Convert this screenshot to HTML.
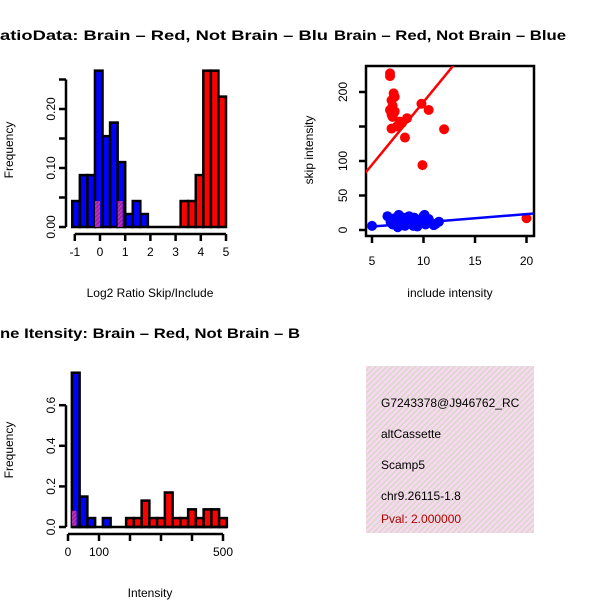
<!DOCTYPE html>
<html><head><meta charset="utf-8"><style>
body{margin:0;background:#fff}
svg{display:block;font-family:"Liberation Sans",sans-serif}
</style></head><body>
<svg id="c" width="600" height="600" viewBox="0 0 600 600">
<defs>
<pattern id="hatch" width="4" height="4" patternUnits="userSpaceOnUse" patternTransform="rotate(45)">
<rect width="4" height="4" fill="#f8d8f0"/><rect width="1.5" height="4" fill="#d8d8c8"/></pattern>
<pattern id="phatch" width="3" height="3" patternUnits="userSpaceOnUse" patternTransform="rotate(45)">
<rect width="3" height="3" fill="#a020a0"/><rect width="1" height="3" fill="#c040c0"/></pattern>
<clipPath id="clip2"><rect x="366" y="66" width="168" height="170"/></clipPath>
<clipPath id="clipbox"><rect x="366" y="366" width="168" height="167"/></clipPath>
</defs>
<text x="0" y="40" font-size="14" font-weight="bold" textLength="328" lengthAdjust="spacingAndGlyphs">atioData: Brain – Red, Not Brain – Blu</text>
<text x="334" y="40" font-size="14" font-weight="bold" textLength="232" lengthAdjust="spacingAndGlyphs">Brain – Red, Not Brain – Blue</text>
<text x="0" y="338" font-size="14" font-weight="bold" textLength="300" lengthAdjust="spacingAndGlyphs">ne Itensity: Brain – Red, Not Brain – B</text>
<text x="150" y="297" font-size="12" text-anchor="middle">Log2 Ratio Skip/Include</text>
<text x="450" y="297" font-size="12" text-anchor="middle">include intensity</text>
<text x="150" y="597" font-size="12" text-anchor="middle">Intensity</text>
<text transform="translate(13,150) rotate(-90)" font-size="12" text-anchor="middle">Frequency</text>
<text transform="translate(313,150) rotate(-90)" font-size="12" text-anchor="middle">skip intensity</text>
<text transform="translate(13,450) rotate(-90)" font-size="12" text-anchor="middle">Frequency</text>
<g id="p1"></g>
<g id="p2"></g>
<g id="p3"></g>
<g clip-path="url(#clipbox)">
<rect x="366" y="366" width="168" height="167" fill="url(#hatch)"/>
<text x="381" y="407" font-size="12">G7243378@J946762_RC</text>
<text x="381" y="438" font-size="12">altCassette</text>
<text x="381" y="469" font-size="12">Scamp5</text>
<text x="381" y="500" font-size="12">chr9.26115-1.8</text>
<text x="381" y="523" font-size="12" fill="#b00000">Pval: 2.000000</text>
</g>
</svg>
<script>
// Ratio histogram data
const ratioBlueStarts = [-1.1,-0.8,-0.5,-0.2,0.1,0.4,0.7,1.0,1.3,1.6];
const ratioBlueFreq = [0.044,0.088,0.088,0.265,0.154,0.177,0.11,0.022,0.044,0.022];
const ratioRedStarts = [3.2,3.5,3.8,4.1,4.4,4.7];
const ratioRedFreq = [0.044,0.044,0.088,0.265,0.265,0.221];
const ratioPurpleStarts = [-0.2,0.7];
const ratioPurpleFreq = [0.044,0.044];
const ratioBinWidth = 0.3;
const ratioXTicks = [-1,0,1,2,3,4,5];
const ratioYTicks = [0,0.05,0.1,0.15,0.2,0.25];
const ratioYLabels = ["0.00","","0.10","","0.20",""];
// Scatter data
const redX = [6.75,6.75,7.1,6.9,7.2,6.75,7.1,6.9,9.8,10.5,6.9,7.7,8.4,7.4,8.2,12.0,9.9,20.0,7.0,7.9,7.2,7.0];
const redY = [227,223,198,188,193,174,169,167,183,174,147,157,162,150,134,146,94,17,180,155,172,164];
const blueX = [5.0,6.5,6.8,7.0,7.3,7.6,7.9,8.2,8.5,8.8,9.1,9.4,9.7,10.0,10.2,10.5,10.8,11.0,11.5,7.5,8.0,9.0,10.1,6.9,7.2,8.6,9.6,10.4,11.2,7.8];
const blueY = [6,20,12,8,15,22,10,6,14,9,18,5,12,20,8,16,10,7,12,4,18,6,22,10,17,20,15,12,9,13];
const redFit = [3.6,18.2];
const blueFit = [-1,1.2];
const scXTicks = [5,10,15,20];
const scYTicks = [0,50,100,150,200];
const scYLabels = ["0","50","100","","200"];
// Intensity histogram data
const intBlueStarts = [12.5,37.5,62.5,112.5];
const intBlueFreq = [0.76,0.15,0.044,0.044];
const intRedStarts = [187.5,212.5,237.5,262.5,287.5,312.5,337.5,362.5,387.5,412.5,437.5,462.5,487.5];
const intRedFreq = [0.044,0.044,0.13,0.044,0.044,0.17,0.044,0.044,0.087,0.044,0.087,0.087,0.044];
const intPurpleStarts = [12.5];
const intPurpleFreq = [0.08];
const intBinWidth = 25;
const intXTicks = [0,100,200,300,400,500];
const intXLabels = ["0","100","","","","500"];
const intYTicks = [0,0.2,0.4,0.6];
const intYLabels = ["0.0","0.2","0.4","0.6"];

const NS="http://www.w3.org/2000/svg";
function mk(parent,tag,attrs){const e=document.createElementNS(NS,tag);for(const k in attrs)e.setAttribute(k,attrs[k]);parent.appendChild(e);return e;}

function hist(g,xs,ys,bw,sx,sy,fill,name,stroke){
  for(let i=0;i<xs.length;i++){
    const x0=sx(xs[i]),x1=sx(xs[i]+bw),y=sy(ys[i]),y0=sy(0);
    const r=mk(g,'rect',{x:x0,y:y,width:x1-x0,height:y0-y,fill:fill,stroke:stroke?'#000':'none','stroke-width':2.5});
    
    
  }
}
function xAxis(g,ticks,labels,sx,y,name){
  mk(g,'line',{x1:sx(ticks[0]),x2:sx(ticks[ticks.length-1]),y1:y,y2:y,stroke:'#000','stroke-width':2.5});
  ticks.forEach((t,i)=>{
    mk(g,'line',{x1:sx(t),x2:sx(t),y1:y,y2:y+7,stroke:'#000','stroke-width':2.5});
    if(labels[i]!==''){const tx=mk(g,'text',{x:sx(t),y:y+22,'font-size':12,'text-anchor':'middle'});tx.textContent=labels[i];
    
    }
  });
}
function yAxis(g,ticks,labels,sy,x,name){
  mk(g,'line',{x1:x,x2:x,y1:sy(ticks[0]),y2:sy(ticks[ticks.length-1]),stroke:'#000','stroke-width':2.5});
  ticks.forEach((t,i)=>{
    mk(g,'line',{x1:x,x2:x-7,y1:sy(t),y2:sy(t),stroke:'#000','stroke-width':2.5});
    if(labels[i]!==''){const tx=mk(g,'text',{transform:`translate(${x-11},${sy(t)}) rotate(-90)`,'font-size':12,'text-anchor':'middle'});tx.textContent=labels[i];
    
    }
  });
}

// Plot 1
const g1=document.getElementById('p1');
const sx1=v=>100+25.2*v, sy1=v=>227-590*v;
hist(g1,ratioBlueStarts,ratioBlueFreq,ratioBinWidth,sx1,sy1,'#0000ff','ratio-blue-bar',true);
hist(g1,ratioRedStarts,ratioRedFreq,ratioBinWidth,sx1,sy1,'#ff0000','ratio-red-bar',true);
hist(g1,ratioPurpleStarts,ratioPurpleFreq,0.2,sx1,sy1,'url(#phatch)','ratio-overlap-bar',false);
mk(g1,'line',{x1:sx1(1.9),x2:sx1(3.2),y1:227,y2:227,stroke:'#000','stroke-width':2.5});
xAxis(g1,ratioXTicks,ratioXTicks.map(String),sx1,234,'ratio-x');
yAxis(g1,ratioYTicks,ratioYLabels,sy1,66,'ratio-y');

// Plot 2
const g2=document.getElementById('p2');
const sx2=v=>372+10.3*(v-5), sy2=v=>230-0.69*v;
mk(g2,'rect',{x:366,y:66,width:168,height:170,fill:'none',stroke:'#000','stroke-width':2.5});
const cg=mk(g2,'g',{'clip-path':'url(#clip2)'});
for(let i=0;i<blueX.length;i++){const c=mk(cg,'circle',{cx:sx2(blueX[i]),cy:sy2(blueY[i]),r:5,fill:'#0000ff'});

}
for(let i=0;i<redX.length;i++){const c=mk(cg,'circle',{cx:sx2(redX[i]),cy:sy2(redY[i]),r:5,fill:'#ff0000'});

}
const lr=mk(cg,'line',{x1:sx2(4),y1:sy2(redFit[0]+redFit[1]*4),x2:sx2(22),y2:sy2(redFit[0]+redFit[1]*22),stroke:'#ff0000','stroke-width':2.5});


const lb=mk(cg,'line',{x1:sx2(5),y1:sy2(blueFit[0]+blueFit[1]*5),x2:sx2(22),y2:sy2(blueFit[0]+blueFit[1]*22),stroke:'#0000ff','stroke-width':2.5});


scXTicks.forEach(t=>{mk(g2,'line',{x1:sx2(t),x2:sx2(t),y1:236,y2:243,stroke:'#000','stroke-width':2.5});
const tx=mk(g2,'text',{x:sx2(t),y:265,'font-size':12,'text-anchor':'middle'});tx.textContent=t;

});
scYTicks.forEach((t,i)=>{mk(g2,'line',{x1:366,x2:359,y1:sy2(t),y2:sy2(t),stroke:'#000','stroke-width':2.5});
if(scYLabels[i]!==''){const tx=mk(g2,'text',{transform:`translate(${347},${sy2(t)}) rotate(-90)`,'font-size':12,'text-anchor':'middle'});tx.textContent=scYLabels[i];

}});

// Plot 3
const g3=document.getElementById('p3');
const sx3=v=>68+0.31*v, sy3=v=>527-203*v;
hist(g3,intBlueStarts,intBlueFreq,intBinWidth,sx3,sy3,'#0000ff','intensity-blue-bar',true);
hist(g3,intRedStarts,intRedFreq,intBinWidth,sx3,sy3,'#ff0000','intensity-red-bar',true);
hist(g3,intPurpleStarts,intPurpleFreq,intBinWidth*0.6,sx3,sy3,'url(#phatch)','intensity-overlap-bar',false);
mk(g3,'line',{x1:sx3(12.5),x2:sx3(512.5),y1:527,y2:527,stroke:'#000','stroke-width':2.5});
xAxis(g3,intXTicks,intXLabels,sx3,534,'intensity-x');
yAxis(g3,intYTicks,intYLabels,sy3,66,'intensity-y');
</script>
</body></html>
